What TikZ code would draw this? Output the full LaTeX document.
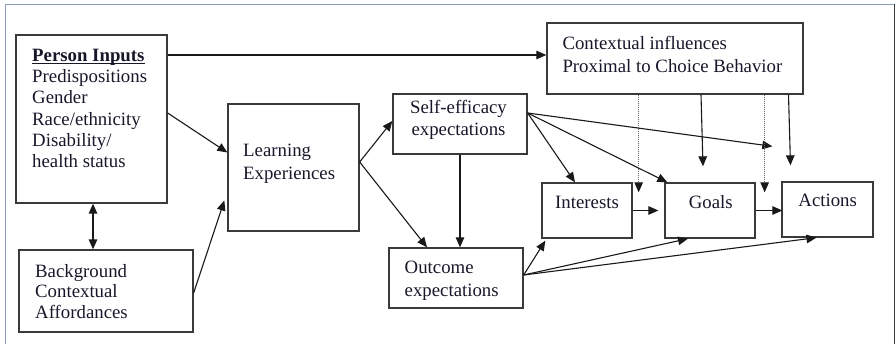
\documentclass[tikz,border=0pt]{standalone}
\usepackage{fontspec}
\setmainfont{Liberation Serif}
\usetikzlibrary{arrows.meta,fit}
\definecolor{ink}{HTML}{17172A}
\definecolor{edge}{HTML}{3A3A3A}
\definecolor{frameblue}{HTML}{8E9DBD}
\definecolor{framedark}{HTML}{3C3C40}
% underline drawn just below the baseline
\newcommand\baseul[1]{\leavevmode\setbox0\hbox{#1}\rlap{\rule[-2.4pt]{\wd0}{1.1pt}}\box0}
\tikzset{
  box/.style={draw=edge, line width=1.3pt, inner sep=0pt, rectangle},
  txt/.style={inner sep=0pt, text=ink, font=\fontsize{18.8}{#1}\selectfont},
  txt/.default=21.2,
  arr/.style={draw=black!90, line width=1.1pt, -{Triangle[length=10pt,width=8.5pt]}},
  dualarr/.style={draw=black!90, line width=1.4pt, {Triangle[length=10pt,width=8.5pt]}-{Triangle[length=10pt,width=8.5pt]}},
  dotarr/.style={draw=black!60, line width=1pt, dash pattern=on 1pt off 1pt,
    -{Triangle[length=10pt,width=8.5pt,color=black!90]}},
}
\begin{document}
\begin{tikzpicture}[x=1pt, y=-1pt]
  \useasboundingbox (0,0) rectangle (896,344);
  % page frame
  \draw[frameblue, line width=1.6pt] (5.5,344) -- (5.5,4.5) -- (894,4.5);
  \draw[framedark, line width=1.4pt] (894.5,4) -- (894.5,344);

  % boxes
  \node[box, fit={(16,35) (167,203)}]   (person) {};
  \node[box, fit={(19,250) (193,332)}]  (bg)     {};
  \node[box, fit={(228,104) (359,231)}] (learn)  {};
  \node[box, fit={(393,94) (527,154)}]  (se)     {};
  \node[box, fit={(389,248) (523,308)}] (out)    {};
  \node[box, fit={(542,183) (632,238)}] (int)    {};
  \node[box, fit={(665,183) (755,238)}] (goals)  {};
  \node[box, fit={(782,182) (873,237)}] (act)    {};
  \node[box, fit={(547,23) (803,94)}]   (ctx)    {};

  % box texts (anchored at the baseline of their last line)
  \node[txt=21.2, anchor=base west, align=left] (persontxt) at (32,167.5)
    {\baseul{\textbf{Person Inputs}}\\Predispositions\\Gender\\Race/ethnicity\\Disability/\\health status};
  \node[txt=20.5, anchor=base west, align=left] (bgtxt) at (35,318.3)
    {Background\\Contextual\\Affordances};
  \node[txt=23.3, anchor=base west, align=left] (learntxt) at (243,180)
    {Learning\\Experiences};
  \node[txt=22.7, anchor=base, align=center] (setxt) at (458.5,136)
    {Self-efficacy\\expectations};
  \node[txt=22.7, anchor=base west, align=left] (outtxt) at (404.5,296.7)
    {Outcome\\expectations};
  \node[txt, anchor=base west] (inttxt) at (555,208.3) {Interests};
  \node[txt, anchor=base] (goalstxt) at (710.7,208.3) {Goals};
  \node[txt, anchor=base] (acttxt) at (827.7,206.7) {Actions};
  \node[txt=23.4, anchor=base west, align=left] (ctxtxt) at (562.3,72.7)
    {Contextual influences\\Proximal to Choice Behavior};

  % free ends and branch points
  \coordinate (lx) at ([yshift=5.5pt]learn.east);
  \coordinate (sx) at ([yshift=11pt]se.east);
  \coordinate (ox) at ([yshift=3pt]out.east);
  \coordinate (acttop) at ([xshift=-9pt,yshift=35pt]act.north west);
  \coordinate (dotA) at ([xshift=6pt,yshift=-10pt]int.north east);
  \coordinate (dotB) at ([xshift=9pt,yshift=-10pt]goals.north east);
  \coordinate (ctxG) at ([xshift=-7pt,yshift=16pt]goals.north);
  \coordinate (ctxA) at ([xshift=-37pt,yshift=16pt]act.north);

  % person inputs
  \draw[arr] ([yshift=3.5pt]ctx.west -| person.east) -- ([yshift=3.5pt]ctx.west);
  \draw[arr] ([yshift=6pt]person.east) -- ([yshift=15pt]learn.west);
  \draw[dualarr] (person.south -| 93,0) -- (bg.north -| 93,0);
  \draw[arr] ([yshift=-2pt]bg.east) -- ([xshift=-3pt,yshift=-33pt]learn.west);

  % learning experiences
  \draw[arr] (lx) -- ([yshift=3pt]se.west);
  \draw[arr] (lx) -- ([xshift=-29pt]out.north);

  % self-efficacy
  \draw[arr] (se.south) -- (se.south |- out.north);
  \draw[arr] (sx) -- ([xshift=-12pt]int.north);
  \draw[arr] (sx) -- ([xshift=3pt]goals.north west);
  \draw[arr] (sx) -- (acttop);

  % outcome expectations
  \draw[arr] (ox) -- ([xshift=4pt,yshift=-2pt]int.south west);
  \draw[arr] (ox) -- ([xshift=-22pt]goals.south);
  \draw[arr] (ox) -- ([xshift=-11pt]act.south);

  % interests, goals, actions
  \draw[arr] (int.east) -- ([xshift=-6pt]goals.west |- int.east);
  \draw[arr] (goals.east) -- ([xshift=1pt]act.west |- goals.east);

  % contextual influences
  \draw[dotarr] (ctx.south -| dotA) -- (dotA);
  \draw[dotarr] (ctx.south -| dotB) -- (dotB);
  \draw[arr] ([xshift=-2pt]ctx.south -| ctxG) -- (ctxG);
  \draw[arr] ([xshift=-2pt]ctx.south -| ctxA) -- (ctxA);
\end{tikzpicture}
\end{document}
